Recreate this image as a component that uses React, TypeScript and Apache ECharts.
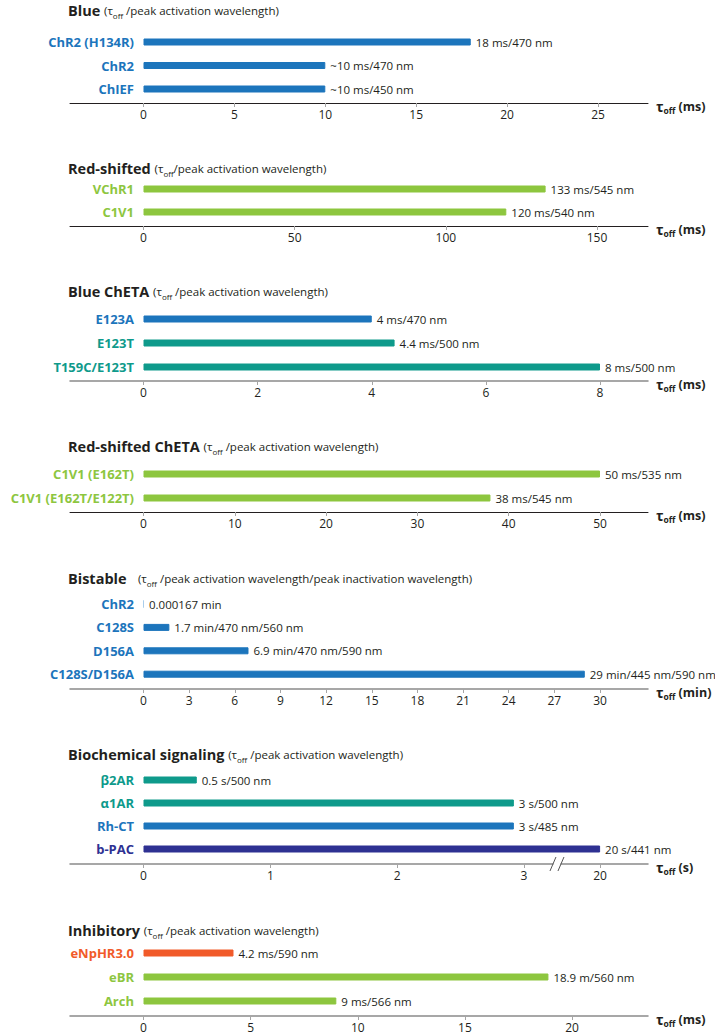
import React, { useEffect, useRef } from 'react';
import * as echarts from 'echarts';

const FONT = '"Open Sans", "Noto Sans", sans-serif';
const TEXT = '#231f20';
const BLUE = '#1c75bc';
const GREEN = '#8dc63f';
const TEAL = '#0e9a8b';
const NAVY = '#2e3192';
const ORANGE = '#f15a29';
const PALE = '#a9cdec';
const DARK_AXIS = '#231f20';
const GRAY_AXIS = '#8a8a8a';

// ---------- data ----------
const blueCats = ['ChR2 (H134R)', 'ChR2', 'ChIEF'];
const blueValues = [18, 10, 10];
const blueLabels = ['18 ms/470 nm', '~10 ms/470 nm', '~10 ms/450 nm'];
const blueTicks = [0, 5, 10, 15, 20, 25];

const redCats = ['VChR1', 'C1V1'];
const redValues = [133, 120];
const redLabels = ['133 ms/545 nm', '120 ms/540 nm'];
const redTicks = [0, 50, 100, 150];

const chetaCats = ['E123A', 'E123T', 'T159C/E123T'];
const chetaValues = [4, 4.4, 8];
const chetaLabels = ['4 ms/470 nm', '4.4 ms/500 nm', '8 ms/500 nm'];
const chetaTicks = [0, 2, 4, 6, 8];

const redChetaCats = ['C1V1 (E162T)', 'C1V1 (E162T/E122T)'];
const redChetaValues = [50, 38];
const redChetaLabels = ['50 ms/535 nm', '38 ms/545 nm'];
const redChetaTicks = [0, 10, 20, 30, 40, 50];

const bistableCats = ['ChR2', 'C128S', 'D156A', 'C128S/D156A'];
const bistableValues = [0.000167, 1.7, 6.9, 29];
const bistableLabels = ['0.000167 min', '1.7 min/470 nm/560 nm', '6.9 min/470 nm/590 nm', '29 min/445 nm/590 nm'];
const bistableTicks = [0, 3, 6, 9, 12, 15, 18, 21, 24, 27, 30];

const bioCats = ['β2AR', 'α1AR', 'Rh-CT', 'b-PAC'];
const bioValues = [0.42, 2.92, 2.92, 20];
const bioLabels = ['0.5 s/500 nm', '3 s/500 nm', '3 s/485 nm', '20 s/441 nm'];
const bioTicks = [0, 1, 2, 3, 20];
const BIO_BREAK_FROM = 3; // values above this sit beyond the axis break
const BIO_AFTER_BREAK = 3.6; // axis position used for 20 s
const BIO_BREAK_MARK = 3.26;

const inhCats = ['eNpHR3.0', 'eBR', 'Arch'];
const inhValues = [4.2, 18.9, 9];
const inhLabels = ['4.2 ms/590 nm', '18.9 m/560 nm', '9 ms/566 nm'];
const inhTicks = [0, 5, 10, 15, 20];

const bioMap = (v: number) => (v > BIO_BREAK_FROM ? BIO_AFTER_BREAK : v);
const ident = (v: number) => v;

const panels = [
  { title: 'Blue ', sub: ' /peak activation wavelength)', unit: ' (ms)', cats: blueCats, values: blueValues, labels: blueLabels, ticks: blueTicks, map: ident,
    labelColors: [BLUE, BLUE, BLUE], barColors: [BLUE, BLUE, BLUE] },
  { title: 'Red-shifted ', sub: '/peak activation wavelength)', unit: ' (ms)', cats: redCats, values: redValues, labels: redLabels, ticks: redTicks, map: ident,
    labelColors: [GREEN, GREEN], barColors: [GREEN, GREEN] },
  { title: 'Blue ChETA ', sub: ' /peak activation wavelength)', unit: ' (ms)', cats: chetaCats, values: chetaValues, labels: chetaLabels, ticks: chetaTicks, map: ident,
    labelColors: [BLUE, TEAL, TEAL], barColors: [BLUE, TEAL, TEAL] },
  { title: 'Red-shifted ChETA ', sub: ' /peak activation wavelength)', unit: ' (ms)', cats: redChetaCats, values: redChetaValues, labels: redChetaLabels, ticks: redChetaTicks, map: ident,
    labelColors: [GREEN, GREEN], barColors: [GREEN, GREEN] },
  { title: 'Bistable   ', sub: ' /peak activation wavelength/peak inactivation wavelength)', unit: ' (min)', cats: bistableCats, values: bistableValues, labels: bistableLabels, ticks: bistableTicks, map: ident,
    labelColors: [BLUE, BLUE, BLUE, BLUE], barColors: [PALE, BLUE, BLUE, BLUE] },
  { title: 'Biochemical signaling ', sub: ' /peak activation wavelength)', unit: ' (s)', cats: bioCats, values: bioValues, labels: bioLabels, ticks: bioTicks, map: bioMap,
    labelColors: [TEAL, TEAL, BLUE, NAVY], barColors: [TEAL, TEAL, BLUE, NAVY] },
  { title: 'Inhibitory ', sub: ' /peak activation wavelength)', unit: ' (ms)', cats: inhCats, values: inhValues, labels: inhLabels, ticks: inhTicks, map: ident,
    labelColors: [ORANGE, GREEN, GREEN], barColors: [ORANGE, GREEN, GREEN] },
];

// ---------- layout ----------
const X0 = 143.5;
const AX_L = 70;
const AX_R = 648;
const CAT_RIGHT = 134;
const layouts = [
  { titleY: 10, firstY: 42, band: 23.5, axisY: 103, refTick: 25, refX: 598, axisColor: DARK_AXIS, axisWidth: 1 },
  { titleY: 168, firstY: 189, band: 23, axisY: 226, refTick: 150, refX: 597, axisColor: DARK_AXIS, axisWidth: 1 },
  { titleY: 291, firstY: 319, band: 24, axisY: 381, refTick: 8, refX: 600, axisColor: GRAY_AXIS, axisWidth: 1.5 },
  { titleY: 446, firstY: 474, band: 24, axisY: 512, refTick: 50, refX: 600, axisColor: DARK_AXIS, axisWidth: 1 },
  { titleY: 578, firstY: 604, band: 23.4, axisY: 689, refTick: 30, refX: 600, axisColor: GRAY_AXIS, axisWidth: 1.5 },
  { titleY: 754, firstY: 780, band: 23, axisY: 864, refTick: 3, refX: 524, axisColor: GRAY_AXIS, axisWidth: 1.5 },
  { titleY: 930, firstY: 953, band: 24, axisY: 1016, refTick: 20, refX: 572, axisColor: GRAY_AXIS, axisWidth: 1.5 },
];

const titleRich = {
  b: { fontFamily: FONT, fontWeight: 'bold', fontSize: 14.5, color: TEXT, lineHeight: 18 },
  p: { fontFamily: FONT, fontWeight: 'normal', fontSize: 11.5, color: TEXT, lineHeight: 18 },
  s: { fontFamily: FONT, fontWeight: 'normal', fontSize: 8, color: TEXT, lineHeight: 10, verticalAlign: 'bottom' },
};
const nameRich = {
  t: { fontFamily: FONT, fontWeight: 'bold', fontSize: 14, color: TEXT, lineHeight: 18 },
  s: { fontFamily: FONT, fontWeight: 'bold', fontSize: 8.5, color: TEXT, lineHeight: 10, verticalAlign: 'bottom' },
  u: { fontFamily: FONT, fontWeight: 'bold', fontSize: 12.5, color: TEXT, lineHeight: 18 },
};

function buildOption() {
  const title: any[] = [];
  const grid: any[] = [];
  const xAxis: any[] = [];
  const yAxis: any[] = [];
  const series: any[] = [];
  panels.forEach((p, i) => {
    const L = layouts[i];
    const k = (L.refX - X0) / L.refTick;
    const min = (AX_L - X0) / k;
    const max = (AX_R - X0) / k;
    const top = L.firstY - L.band / 2;
    const height = p.cats.length * L.band;
    const tickPos = p.ticks.map(p.map);
    title.push({
      text: `{b|${p.title}}{p|(τ}{s|off}{p|${p.sub}}`,
      left: 68,
      top: L.titleY - 9,
      padding: 0,
      textStyle: { rich: titleRich },
    });
    grid.push({ left: AX_L, width: AX_R - AX_L, top, height, containLabel: false, outerBoundsMode: 'none' });
    xAxis.push({
      type: 'value',
      gridIndex: i,
      min,
      max,
      position: 'bottom',
      offset: L.axisY - (top + height),
      axisLine: { show: true, onZero: false, lineStyle: { color: L.axisColor, width: L.axisWidth } },
      axisTick: { show: true, customValues: tickPos, length: 4, lineStyle: { color: '#a5a5a5', width: 1 } },
      axisLabel: {
        show: true,
        customValues: tickPos,
        margin: 5,
        color: TEXT,
        fontFamily: FONT,
        fontSize: 12,
        formatter: (v: number) => {
          const idx = tickPos.findIndex((t) => Math.abs(t - v) < 1e-6);
          return idx >= 0 ? String(p.ticks[idx]) : '';
        },
      },
      splitLine: { show: false },
      name: `{t|τ}{s|off}{u|${p.unit}}`,
      nameLocation: 'end',
      nameGap: 8,
      nameTextStyle: { rich: nameRich, padding: [6, 0, 0, 0] },
    });
    yAxis.push({
      type: 'category',
      gridIndex: i,
      inverse: true,
      data: p.cats,
      axisLine: { show: false, onZero: false },
      axisTick: { show: false },
      splitLine: { show: false },
      axisLabel: {
        margin: -(CAT_RIGHT - AX_L),
        fontFamily: FONT,
        fontWeight: 'bold',
        fontSize: 13,
        align: 'right',
        color: (_v: any, idx: number) => p.labelColors[idx],
      },
    });
    series.push({
      type: 'bar',
      xAxisIndex: i,
      yAxisIndex: i,
      barWidth: 7,
      silent: true,
      data: p.values.map((v, j) => ({
        value: p.map(v),
        itemStyle: { color: p.barColors[j], borderColor: p.barColors[j], borderWidth: 1 },
      })),
      label: {
        show: true,
        position: 'right',
        distance: 5,
        color: TEXT,
        fontFamily: FONT,
        fontSize: 11.5,
        formatter: (q: any) => p.labels[q.dataIndex],
      },
    });
  });
  return { animation: false, backgroundColor: '#ffffff', title, grid, xAxis, yAxis, series };
}

export default function App() {
  const ref = useRef<HTMLDivElement>(null);
  useEffect(() => {
    if (!ref.current) return;
    const chart = echarts.init(ref.current, undefined, { renderer: 'svg' });
    chart.setOption(buildOption());
    // axis break mark on the biochemical panel
    const bx = chart.convertToPixel({ xAxisIndex: 5 }, BIO_BREAK_MARK) as unknown as number;
    const by = layouts[5].axisY;
    chart.setOption({
      graphic: [
        { type: 'rect', shape: { x: bx - 3.5, y: by - 2, width: 7, height: 4 }, style: { fill: '#ffffff' }, z: 100 },
        { type: 'line', shape: { x1: bx - 7, y1: by + 7, x2: bx - 1, y2: by - 7 }, style: { stroke: '#555555', lineWidth: 1 }, z: 101 },
        { type: 'line', shape: { x1: bx + 1, y1: by + 7, x2: bx + 7, y2: by - 7 }, style: { stroke: '#555555', lineWidth: 1 }, z: 101 },
      ],
    });
    return () => chart.dispose();
  }, []);
  return (
    <div
      ref={ref}
      style={{ position: 'fixed', left: 0, top: 0, width: 715, height: 1035, background: '#fff' }}
    />
  );
}
